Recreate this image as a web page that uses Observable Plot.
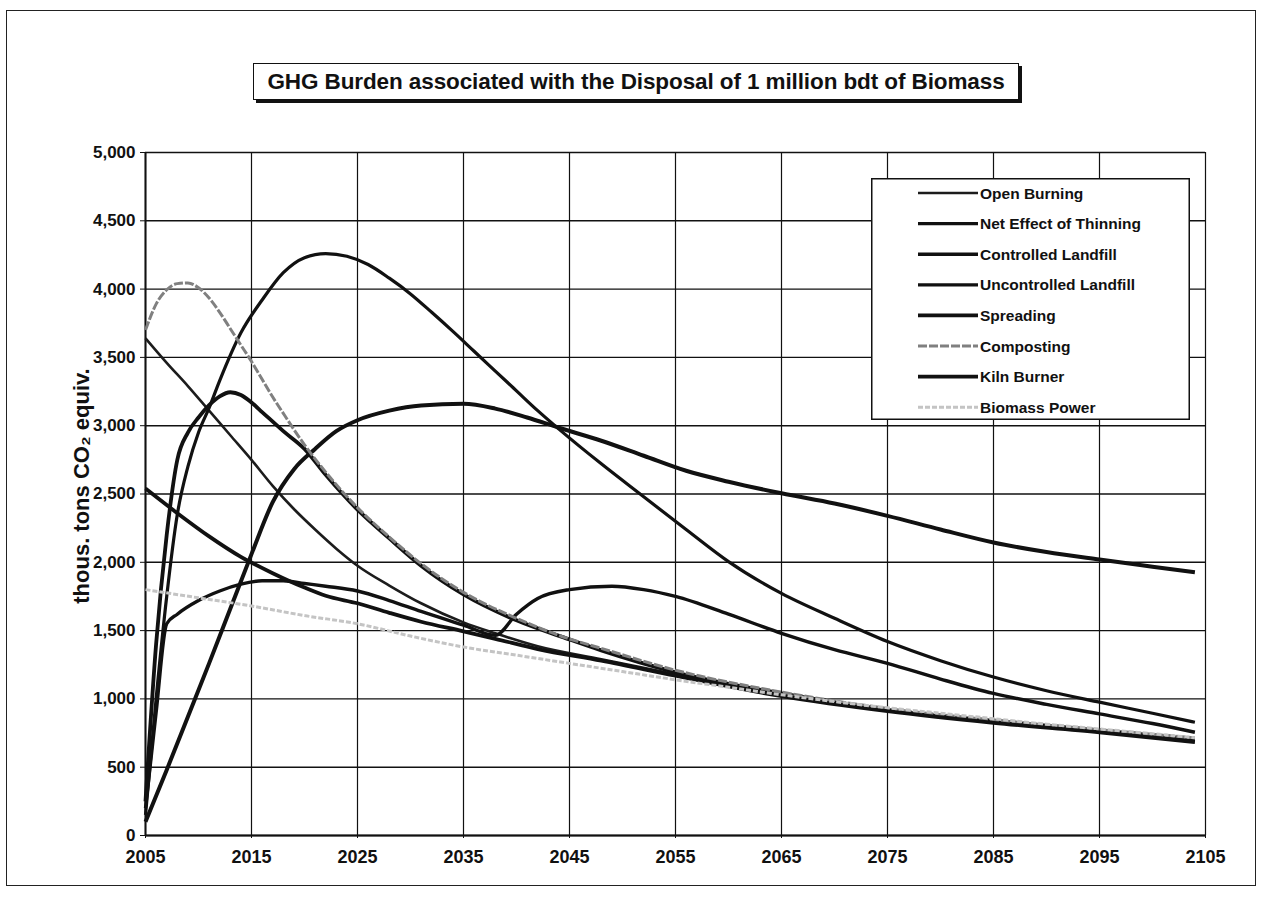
<!DOCTYPE html>
<html><head><meta charset="utf-8">
<script src="https://cdn.jsdelivr.net/npm/d3@7"></script>
<script src="https://cdn.jsdelivr.net/npm/@observablehq/plot@0.6"></script>
<style>
body{margin:0;background:#fff;width:1262px;height:915px;position:relative;overflow:hidden;font-family:'Liberation Sans',Arial,sans-serif;color:#111;}
#frame{position:absolute;left:6px;top:10px;width:1248px;height:874px;border:1.5px solid #222;}
#chart{position:absolute;left:0;top:0;}
#title{position:absolute;left:253px;top:63px;width:764px;height:35px;border:1.5px solid #111;box-shadow:3px 3px 0 #111;background:#fff;font-weight:bold;font-size:22.5px;text-align:center;line-height:36px;color:#111;white-space:nowrap;letter-spacing:-0.1px;}
#ylabel{position:absolute;left:82px;top:486px;transform:translate(-50%,-50%) rotate(-90deg);white-space:nowrap;font-weight:bold;font-size:22px;}
#legend{position:absolute;left:871px;top:178px;}
</style></head><body>
<div id="frame"></div>
<div id="chart"></div>
<div id="title">GHG Burden associated with the Disposal of 1 million bdt of Biomass</div>
<div id="ylabel">thous. tons CO₂ equiv.</div>
<div id="legend"></div>
<script>
// ---- Data ----
const seriesNames = ["Open Burning","Net Effect of Thinning","Controlled Landfill","Uncontrolled Landfill","Spreading","Composting","Kiln Burner","Biomass Power"];

const openBurningYears  = [2005,2007,2009,2011,2013,2015,2017,2019,2021,2023,2025,2028,2031,2035,2038,2042,2048,2055,2065,2075,2085,2095,2104];
const openBurningValues = [3640,3460,3290,3110,2930,2750,2560,2390,2240,2100,1975,1830,1700,1560,1480,1385,1290,1180,1030,920,835,760,690];

const thinningYears  = [2005,2006,2007,2008,2010,2012,2014,2016,2018,2020,2022,2025,2028,2031,2035,2038,2040,2042,2045,2049,2052,2055,2060,2065,2070,2075,2080,2085,2090,2095,2100,2104];
const thinningValues = [200,900,1550,1620,1720,1790,1840,1865,1865,1845,1825,1790,1720,1640,1540,1465,1620,1735,1800,1825,1800,1750,1620,1480,1360,1260,1145,1040,960,890,820,756];

const controlledYears  = [2005,2007,2009,2011,2013,2015,2017,2019,2021,2023,2025,2028,2031,2035,2038,2041,2044,2048,2052,2056,2060,2065,2070,2075,2080,2085,2090,2095,2100,2104];
const controlledValues = [100,480,870,1260,1660,2060,2440,2680,2830,2960,3040,3110,3148,3160,3125,3060,2985,2890,2780,2670,2590,2505,2430,2340,2240,2145,2075,2020,1968,1927];

const uncontrolledYears  = [2005,2006,2007,2008,2009,2010,2011,2012,2014,2016,2018,2020,2022,2024,2026,2028,2030,2032,2034,2036,2038,2040,2042,2044,2048,2052,2056,2060,2065,2070,2075,2080,2085,2090,2095,2100,2104];
const uncontrolledValues = [150,1000,1750,2350,2700,2950,3130,3330,3680,3920,4120,4230,4260,4240,4180,4080,3965,3830,3690,3545,3400,3255,3110,2975,2721,2480,2240,2005,1772,1590,1420,1280,1160,1060,976,895,829];

const spreadingYears  = [2005,2006,2007,2008,2009,2010,2011,2012,2013,2014,2015,2016,2018,2020,2022,2025,2028,2031,2035,2040,2045,2048,2055,2065,2075,2085,2095,2104];
const spreadingValues = [250,1400,2200,2750,2950,3060,3150,3215,3245,3225,3170,3100,2960,2830,2640,2385,2175,1975,1765,1575,1435,1355,1195,1040,920,840,770,705];

const compostingYears  = [2005,2006,2007,2008,2009,2010,2011,2012,2013,2014,2015,2016,2017,2018,2020,2022,2025,2028,2031,2035,2040,2044,2048,2055,2065,2075,2085,2095,2104];
const compostingValues = [3700,3890,3995,4040,4045,4010,3935,3830,3710,3590,3470,3340,3210,3090,2860,2660,2400,2185,1990,1780,1590,1465,1370,1210,1050,930,845,775,715];

const kilnYears  = [2005,2008,2011,2014,2017,2020,2022,2025,2028,2031,2035,2038,2042,2048,2055,2065,2075,2085,2095,2104];
const kilnValues = [2540,2360,2190,2040,1920,1815,1755,1700,1630,1565,1495,1440,1365,1280,1170,1020,910,825,755,683];

const biomassPowerYears  = [2005,2010,2015,2020,2025,2030,2035,2040,2045,2050,2055,2060,2065,2070,2075,2080,2085,2090,2095,2100,2104];
const biomassPowerValues = [1800,1740,1680,1610,1550,1460,1380,1320,1260,1200,1140,1085,1030,980,935,895,855,815,780,745,715];

const xTicks = [2005,2015,2025,2035,2045,2055,2065,2075,2085,2095,2105];
const yTicks = [0,500,1000,1500,2000,2500,3000,3500,4000,4500,5000];

// ---- Build ----
const seriesData = [
  [openBurningYears, openBurningValues],
  [thinningYears, thinningValues],
  [controlledYears, controlledValues],
  [uncontrolledYears, uncontrolledValues],
  [spreadingYears, spreadingValues],
  [compostingYears, compostingValues],
  [kilnYears, kilnValues],
  [biomassPowerYears, biomassPowerValues]
];
const styles = [
  {stroke:"#1c1c1c", width:2.6, dash:null},
  {stroke:"#111", width:3.4, dash:null},
  {stroke:"#111", width:4, dash:null},
  {stroke:"#111", width:3.2, dash:null},
  {stroke:"#111", width:3.8, dash:null},
  {stroke:"#808080", width:3, dash:"9,2"},
  {stroke:"#111", width:3.8, dash:null},
  {stroke:"#c4c4c4", width:3, dash:"5,2"}
];
const rows = [];
seriesNames.forEach((name, k) => {
  const [ys, vs] = seriesData[k];
  ys.forEach((yr, i) => rows.push({series: name, year: yr, value: vs[i]}));
});

const lineMarks = seriesNames.map((name, k) => Plot.line(rows.filter(d => d.series === name), {
  x: "year", y: "value",
  stroke: styles[k].stroke, strokeWidth: styles[k].width,
  strokeDasharray: styles[k].dash, curve: "monotone-x",
  strokeLinejoin: "round", strokeLinecap: "butt"
}));

const chart = Plot.plot({
  width: 1262, height: 915,
  marginLeft: 145, marginRight: 57, marginTop: 152, marginBottom: 80,
  style: {fontFamily: "'Liberation Sans', Arial, sans-serif", background: "transparent", color: "#111"},
  x: {domain: [2005, 2105]},
  y: {domain: [0, 5000]},
  marks: [
    Plot.gridY(yTicks, {stroke: "#111", strokeOpacity: 1, strokeWidth: 1.4}),
    Plot.gridX(xTicks, {stroke: "#111", strokeOpacity: 1, strokeWidth: 1.2}),
    Plot.ruleX([2005], {stroke: "#111", strokeWidth: 2}),
    Plot.ruleY([0], {stroke: "#111", strokeWidth: 2.2}),
    Plot.axisY(yTicks, {tickSize: 5, tickPadding: 5, tickFormat: d3.format(","), fontSize: 17, fontWeight: "bold", label: null}),
    Plot.axisX(xTicks, {tickSize: 3, tickPadding: 12, tickFormat: d => String(d), fontSize: 18, fontWeight: "bold", label: null}),
    ...lineMarks
  ]
});
document.getElementById("chart").appendChild(chart);

// ---- Legend ----
const lw = 319, lh = 242;
const legend = d3.select("#legend").append("svg")
  .attr("width", lw).attr("height", lh)
  .style("background", "#fff").style("display", "block");
legend.append("rect").attr("x", 0.75).attr("y", 0.75).attr("width", lw - 1.5).attr("height", lh - 1.5)
  .attr("fill", "#fff").attr("stroke", "#111").attr("stroke-width", 1.5);
seriesNames.forEach((name, k) => {
  const cy = 15 + k * 30.6;
  legend.append("line").attr("x1", 47).attr("x2", 107).attr("y1", cy).attr("y2", cy)
    .attr("stroke", styles[k].stroke).attr("stroke-width", Math.min(styles[k].width, 3.6))
    .attr("stroke-dasharray", styles[k].dash);
  legend.append("text").attr("x", 109).attr("y", cy).attr("dy", "0.36em")
    .attr("font-family", "'Liberation Sans', Arial, sans-serif").attr("font-weight", "bold")
    .attr("font-size", 15.5).attr("fill", "#111").text(name);
});
</script>
</body></html>
